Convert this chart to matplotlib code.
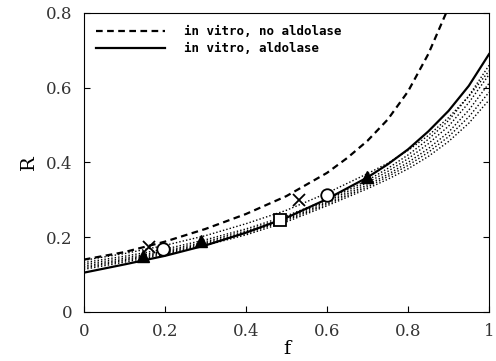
import numpy as np
import matplotlib
matplotlib.use("Agg")
import matplotlib.pyplot as plt
from matplotlib.lines import Line2D

# curve readings
f_dash = [0.0, 0.1, 0.2, 0.3, 0.4, 0.5, 0.6, 0.65, 0.7, 0.75, 0.8, 0.85, 0.9]
r_dash = [0.140, 0.160, 0.188, 0.222, 0.262, 0.310, 0.372, 0.412, 0.458, 0.515, 0.590, 0.690, 0.815]

f_grid = [0.0, 0.1, 0.2, 0.3, 0.4, 0.5, 0.6, 0.7, 0.75, 0.8, 0.85, 0.9, 0.95, 1.0]
r_solid = [0.105, 0.127, 0.150, 0.178, 0.212, 0.252, 0.302, 0.360, 0.395, 0.435, 0.483, 0.538, 0.605, 0.690]

r_dot1 = [0.138, 0.156, 0.178, 0.204, 0.236, 0.272, 0.318, 0.370, 0.398, 0.432, 0.472, 0.520, 0.577, 0.645]
r_dot2 = [0.132, 0.149, 0.168, 0.193, 0.222, 0.257, 0.300, 0.352, 0.384, 0.420, 0.462, 0.512, 0.578, 0.660]
r_dot3 = [0.127, 0.144, 0.163, 0.188, 0.217, 0.252, 0.296, 0.346, 0.376, 0.410, 0.450, 0.497, 0.560, 0.635]
r_dot4 = [0.122, 0.140, 0.160, 0.184, 0.213, 0.248, 0.292, 0.340, 0.368, 0.400, 0.437, 0.481, 0.540, 0.612]
r_dot5 = [0.118, 0.137, 0.157, 0.181, 0.210, 0.245, 0.288, 0.335, 0.362, 0.392, 0.427, 0.469, 0.522, 0.588]
r_dot6 = [0.114, 0.133, 0.154, 0.178, 0.206, 0.241, 0.284, 0.330, 0.355, 0.383, 0.416, 0.456, 0.505, 0.567]

# data points
cross_f = [0.16, 0.53]
cross_r = [0.175, 0.300]
circ_f = [0.195, 0.60]
circ_r = [0.168, 0.312]
sq_f = [0.485]
sq_r = [0.247]
tri_f = [0.145, 0.29, 0.70]
tri_r = [0.150, 0.190, 0.360]

fig = plt.figure(figsize=(4.96, 3.61), dpi=100)
ax = fig.add_axes([0.169, 0.136, 0.817, 0.828])

ax.plot(f_dash, r_dash, color='black', lw=1.6, ls=(0, (3, 2)))
ax.plot(f_grid, r_solid, color='black', lw=1.6)
for rr in [r_dot1, r_dot2, r_dot3, r_dot4, r_dot5, r_dot6]:
    ax.plot(f_grid, rr, color='black', lw=1.0, ls=(0, (1, 1.5)))

ax.plot(cross_f, cross_r, 'x', color='black', ms=9, mew=1.3)
ax.plot(circ_f, circ_r, 'o', mfc='white', mec='black', ms=9, mew=1.3)
ax.plot(sq_f, sq_r, 's', mfc='white', mec='black', ms=8, mew=1.3)
ax.plot(tri_f, tri_r, '^', color='black', ms=8)

ax.set_xlim(0, 1)
ax.set_ylim(0, 0.8)
ax.set_xticks([0, 0.2, 0.4, 0.6, 0.8, 1])
ax.set_xticklabels(['0', '0.2', '0.4', '0.6', '0.8', '1'])
ax.set_yticks([0, 0.2, 0.4, 0.6, 0.8])
ax.set_yticklabels(['0', '0.2', '0.4', '0.6', '0.8'])
ax.tick_params(direction='in', length=4, right=True, labelsize=12, pad=8)
for lab in ax.get_xticklabels() + ax.get_yticklabels():
    lab.set_family('DejaVu Serif')
    lab.set_color('#333333')

ax.set_xlabel('f', family='DejaVu Serif', fontsize=14, labelpad=0)
ax.set_ylabel('R', family='DejaVu Serif', fontsize=14, labelpad=6)

handles = [Line2D([], [], color='black', lw=1.6, ls=(0, (3, 2))),
           Line2D([], [], color='black', lw=1.6)]
ax.legend(handles, ['in vitro, no aldolase', 'in vitro, aldolase'],
          loc='upper left', frameon=False, handlelength=5.5, handletextpad=1.5,
          labelspacing=0.3, borderaxespad=0.6,
          prop={'family': 'DejaVu Sans Mono', 'weight': 'bold', 'size': 9})

fig.savefig('out.png', dpi=100)
